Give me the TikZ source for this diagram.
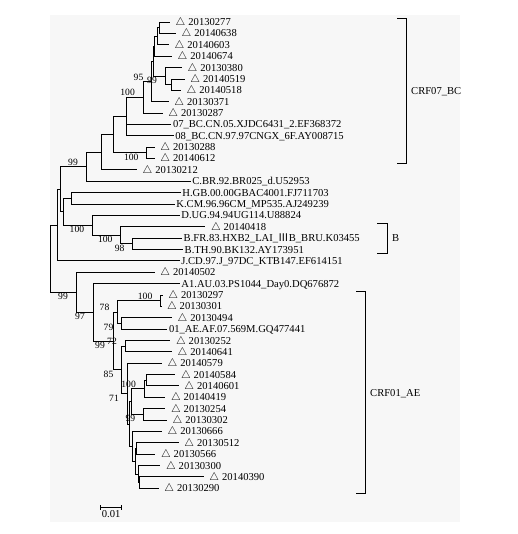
\documentclass[tikz,border=0pt]{standalone}
\usepackage{fontspec}
\setmainfont{Liberation Serif}
\newfontfamily\cjk{Noto Sans CJK SC}
\usepackage{tikz}
\usetikzlibrary{positioning}
\newcommand{\smp}{\kern4pt$\triangle$\kern3pt}

\begin{document}
\begin{tikzpicture}[
    x=1pt, y=-1pt,
    branch/.style={draw=black, line width=0.7pt},
    tip/.style={anchor=west, inner sep=1.5pt, text height=7.2pt, text depth=0pt,
                font=\fontsize{10.6}{12}\selectfont},
    bsup/.style={anchor=south east, inner sep=1pt, xshift=-7pt,
                 font=\fontsize{9.6}{11}\selectfont},
    bsdn/.style={bsup, anchor=north east},
    clade/.style={inner sep=1pt, text height=7.2pt, text depth=0pt,
                  font=\fontsize{10.6}{12}\selectfont},
    brk/.style={draw=black, line width=0.6pt},
]
    \useasboundingbox (0,0) rectangle (517,534);
    \fill[black!3] (50,15) rectangle (460,522);

    % leaves
    \node[tip] (t01) at (170,22.0) {\smp 20130277};
    \node[tip] (t02) at (176,33.4) {\smp 20140638};
    \node[tip] (t03) at (169,44.7) {\smp 20140603};
    \node[tip] (t04) at (172,56.1) {\smp 20140674};
    \node[tip] (t05) at (182,67.5) {\smp 20130380};
    \node[tip] (t06) at (184.7,78.9) {\smp 20140519};
    \node[tip] (t07) at (181,90.2) {\smp 20140518};
    \node[tip] (t08) at (168.7,101.6) {\smp 20130371};
    \node[tip] (t09) at (162.7,113.0) {\smp 20130287};
    \node[tip] (t10) at (171.3,124.3) {07\_BC.CN.05.XJDC6431\_2.EF368372};
    \node[tip] (t11) at (173.7,135.7) {08\_BC.CN.97.97CNGX\_6F.AY008715};
    \node[tip] (t12) at (154.7,147.1) {\smp 20130288};
    \node[tip] (t13) at (154.7,158.4) {\smp 20140612};
    \node[tip] (t14) at (137,169.8) {\smp 20130212};
    \node[tip] (t15) at (190.7,181.2) {C.BR.92.BR025\_d.U52953};
    \node[tip] (t16) at (180.7,192.6) {H.GB.00.00GBAC4001.FJ711703};
    \node[tip] (t17) at (174.7,203.9) {K.CM.96.96CM\_MP535.AJ249239};
    \node[tip] (t18) at (179.7,215.3) {D.UG.94.94UG114.U88824};
    \node[tip] (t19) at (205.3,226.7) {\smp 20140418};
    \node[tip] (t20) at (182,238.0) {B.FR.83.HXB2\_LAI\_{\cjk Ⅲ}B\_BRU.K03455};
    \node[tip] (t21) at (183,249.4) {B.TH.90.BK132.AY173951};
    \node[tip] (t22) at (179.7,260.8) {J.CD.97.J\_97DC\_KTB147.EF614151};
    \node[tip] (t23) at (154.7,272.1) {\smp 20140502};
    \node[tip] (t24) at (179.7,283.5) {A1.AU.03.PS1044\_Day0.DQ676872};
    \node[tip] (t25) at (162.7,294.9) {\smp 20130297};
    \node[tip] (t26) at (161.3,306.3) {\smp 20130301};
    \node[tip] (t27) at (172,317.6) {\smp 20130494};
    \node[tip] (t28) at (167.3,329.0) {01\_AE.AF.07.569M.GQ477441};
    \node[tip] (t29) at (170.3,340.4) {\smp 20130252};
    \node[tip] (t30) at (172,351.7) {\smp 20140641};
    \node[tip] (t31) at (162,363.1) {\smp 20140579};
    \node[tip] (t32) at (175.3,374.5) {\smp 20140584};
    \node[tip] (t33) at (178.7,385.8) {\smp 20140601};
    \node[tip] (t34) at (165.3,397.2) {\smp 20140419};
    \node[tip] (t35) at (165.3,408.6) {\smp 20130254};
    \node[tip] (t36) at (167,420.0) {\smp 20130302};
    \node[tip] (t37) at (162,431.3) {\smp 20130666};
    \node[tip] (t38) at (178.7,442.7) {\smp 20130512};
    \node[tip] (t39) at (155.3,454.1) {\smp 20130566};
    \node[tip] (t40) at (160.3,465.4) {\smp 20130300};
    \node[tip] (t41) at (203.7,476.8) {\smp 20140390};
    \node[tip] (t42) at (158.7,488.2) {\smp 20130290};

    % internal nodes
    \coordinate (root) at (50,258.7);
    \coordinate (u1) at (57.5,225.1);
    \coordinate (u2) at (60,189.3);
    \coordinate (c99) at (86,166.8);
    \coordinate (cx) at (101.7,152.3);
    \coordinate (cy) at (113,134.7);
    \coordinate (bc) at (126,116.5);
    \coordinate (bc100) at (143,97.2);
    \coordinate (bc95) at (151.5,81.4);
    \coordinate (bcg) at (153,61.1);
    \coordinate (bcf) at (154.5,46.2);
    \coordinate (bce) at (157.5,36.2);
    \coordinate (bcd) at (159.5,27.7);
    \coordinate (bc99) at (165,76.0);
    \coordinate (bcc) at (171.5,84.6);
    \coordinate (bcb) at (146.7,152.8);
    \coordinate (hkdb) at (63,211.8);
    \coordinate (hk) at (71.7,198.3);
    \coordinate (db) at (92.3,225.3);
    \coordinate (bb) at (120.7,235.2);
    \coordinate (b98) at (132.7,243.7);
    \coordinate (ae99) at (76,292.2);
    \coordinate (ae97) at (93,312.2);
    \coordinate (ae99b) at (113,340.9);
    \coordinate (ae78) at (117.5,312.0);
    \coordinate (ae100) at (160.5,300.6);
    \coordinate (ae79) at (121.5,323.3);
    \coordinate (ae85) at (121.5,369.8);
    \coordinate (ae72) at (125,346.1);
    \coordinate (ae71) at (127,393.5);
    \coordinate (aeu) at (129,423.9);
    \coordinate (aev) at (131,401.5);
    \coordinate (ae100b) at (144,388.7);
    \coordinate (aep) at (146.7,380.2);
    \coordinate (ae99c) at (143.3,414.3);
    \coordinate (aew) at (132.5,446.3);
    \coordinate (aew2) at (135,461.2);
    \coordinate (aew3) at (136.7,448.4);
    \coordinate (aew4) at (138.3,474.0);
    \coordinate (aew5) at (139.3,482.5);

    % branches
    \draw[branch] (root) |- (u1);
    \draw[branch] (root) |- (ae99);
    \draw[branch] (u1) |- (u2);
    \draw[branch] (u1) |- (t22.west);
    \draw[branch] (u2) |- (c99);
    \draw[branch] (u2) |- (hkdb);
    \draw[branch] (c99) |- (cx);
    \draw[branch] (c99) |- (t15.west);
    \draw[branch] (cx) |- (cy);
    \draw[branch] (cx) |- (t14.west);
    \draw[branch] (cy) |- (bc);
    \draw[branch] (cy) |- (bcb);
    \draw[branch] (bc) |- (bc100);
    \draw[branch] (bc) |- (t10.west);
    \draw[branch] (bc) |- (t11.west);
    \draw[branch] (bc100) |- (bc95);
    \draw[branch] (bc100) |- (t09.west);
    \draw[branch] (bc95) |- (bcg);
    \draw[branch] (bc95) |- (t08.west);
    \draw[branch] (bcg) |- (bcf);
    \draw[branch] (bcg) |- (bc99);
    \draw[branch] (bcf) |- (bce);
    \draw[branch] (bcf) |- (t04.west);
    \draw[branch] (bce) |- (bcd);
    \draw[branch] (bce) |- (t03.west);
    \draw[branch] (bcd) |- (t01.west);
    \draw[branch] (bcd) |- (t02.west);
    \draw[branch] (bc99) |- (t05.west);
    \draw[branch] (bc99) |- (bcc);
    \draw[branch] (bcc) |- (t06.west);
    \draw[branch] (bcc) |- (t07.west);
    \draw[branch] (bcb) |- (t12.west);
    \draw[branch] (bcb) |- (t13.west);
    \draw[branch] (hkdb) |- (hk);
    \draw[branch] (hkdb) |- (db);
    \draw[branch] (hk) |- (t16.west);
    \draw[branch] (hk) |- (t17.west);
    \draw[branch] (db) |- (t18.west);
    \draw[branch] (db) |- (bb);
    \draw[branch] (bb) |- (t19.west);
    \draw[branch] (bb) |- (b98);
    \draw[branch] (b98) |- (t20.west);
    \draw[branch] (b98) |- (t21.west);
    \draw[branch] (ae99) |- (t23.west);
    \draw[branch] (ae99) |- (ae97);
    \draw[branch] (ae97) |- (t24.west);
    \draw[branch] (ae97) |- (ae99b);
    \draw[branch] (ae99b) |- (ae78);
    \draw[branch] (ae99b) |- (ae85);
    \draw[branch] (ae78) |- (ae100);
    \draw[branch] (ae78) |- (ae79);
    \draw[branch] (ae100) |- (t25.west);
    \draw[branch] (ae100) |- (t26.west);
    \draw[branch] (ae79) |- (t27.west);
    \draw[branch] (ae79) |- (t28.west);
    \draw[branch] (ae85) |- (ae72);
    \draw[branch] (ae85) |- (ae71);
    \draw[branch] (ae72) |- (t29.west);
    \draw[branch] (ae72) |- (t30.west);
    \draw[branch] (ae71) |- (t31.west);
    \draw[branch] (ae71) |- (aeu);
    \draw[branch] (aeu) |- (aev);
    \draw[branch] (aeu) |- (aew);
    \draw[branch] (aev) |- (ae100b);
    \draw[branch] (aev) |- (ae99c);
    \draw[branch] (ae100b) |- (aep);
    \draw[branch] (ae100b) |- (t34.west);
    \draw[branch] (aep) |- (t32.west);
    \draw[branch] (aep) |- (t33.west);
    \draw[branch] (ae99c) |- (t35.west);
    \draw[branch] (ae99c) |- (t36.west);
    \draw[branch] (aew) |- (t37.west);
    \draw[branch] (aew) |- (aew2);
    \draw[branch] (aew2) |- (aew3);
    \draw[branch] (aew2) |- (aew4);
    \draw[branch] (aew3) |- (t38.west);
    \draw[branch] (aew3) |- (t39.west);
    \draw[branch] (aew4) |- (t40.west);
    \draw[branch] (aew4) |- (aew5);
    \draw[branch] (aew5) |- (t41.west);
    \draw[branch] (aew5) |- (t42.west);

    % bootstrap values
    \node[bsup] at (c99) {99};
    \node[bsdn] at (bcb) {100};
    \node[bsup] at (bc100) {100};
    \node[bsup] at (bc95) {95};
    \node[bsdn] at (bc99) {99};
    \node[bsdn] at (db) {100};
    \node[bsdn] at (bb) {100};
    \node[bsdn] at (b98) {98};
    \node[bsdn] at (ae99) {99};
    \node[bsdn] at (ae97) {97};
    \node[bsdn] at (ae99b) {99};
    \node[bsup] at (ae78) {78};
    \node[bsup] at (ae100) {100};
    \node[bsdn] at (ae79) {79};
    \node[bsup] at (ae72) {72};
    \node[bsdn] at (ae85) {85};
    \node[bsdn] at (ae71) {71};
    \node[bsup] at (ae100b) {100};
    \node[bsdn] at (ae99c) {99};

    % clade brackets
    \draw[brk] (397,18.7) -- (406,18.7) -- (406,163.5) -- (397,163.5);
    \coordinate (k07) at (406,91.1);
    \node[clade, right=4pt of k07] (crf07) {CRF07\_BC};
    \draw[brk] (377,223) -- (387,223) -- (387,253) -- (377,253);
    \coordinate (kb) at (387,238);
    \node[clade, right=4pt of kb] (subb) {B};
    \draw[brk] (356,291.7) -- (365,291.7) -- (365,493.3) -- (356,493.3);
    \coordinate (k01) at (365,392.5);
    \node[clade, right=4pt of k01] (crf01) {CRF01\_AE};

    % scale bar
    \coordinate (sbl) at (100.7,507.5);
    \coordinate (sbr) at (121.7,507.5);
    \coordinate (sbm) at (111.2,507.5);
    \draw[brk] (sbl) -- (sbr);
    \draw[brk] ([yshift=2.5pt]sbl) -- ([yshift=-2.5pt]sbl);
    \draw[brk] ([yshift=2.5pt]sbr) -- ([yshift=-2.5pt]sbr);
    \node[clade, below=2pt of sbm] (sbtxt) {0.01};
\end{tikzpicture}
\end{document}
